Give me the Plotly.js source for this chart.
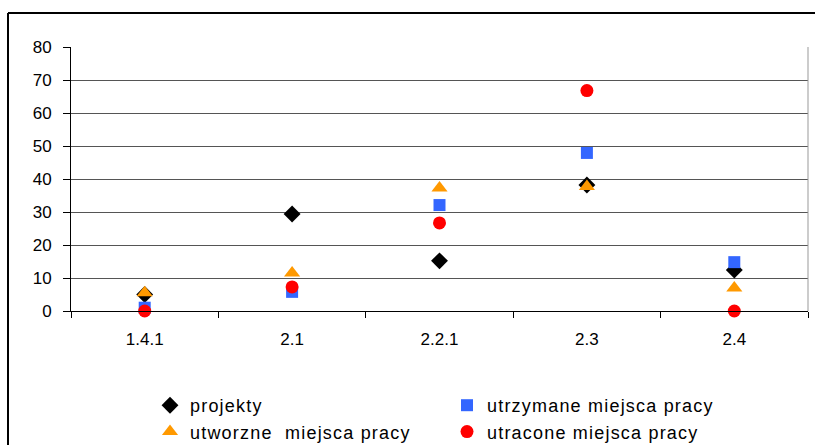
<!DOCTYPE html>
<html>
<head>
<meta charset="utf-8">
<script src="https://cdn.plot.ly/plotly-3.0.1.min.js"></script>
<style>
html,body{margin:0;padding:0;background:#fff;}
#chart{width:815px;height:445px;}
#chart .legendtext{letter-spacing:1.2px;}
</style>
</head>
<body>
<div id="chart"></div>
<script>
const categories = ["1.4.1", "2.1", "2.2.1", "2.3", "2.4"];
const projekty = [5, 29.4, 15.2, 38.2, 12.4];
const utrzymane = [1, 5.8, 32.1, 47.9, 14.8];
const utworzne = [5.5, 11.5, 37.3, 37.7, 7];
const utracone = [0, 7.3, 26.7, 66.8, 0];
const seriesNames = ["projekty", "utrzymane miejsca pracy", "utworzne  miejsca pracy", "utracone miejsca pracy"];

const W = 815, H = 445;
const m = {l: 71, r: 7, t: 47, b: 134};
const pw = W - m.l - m.r, ph = H - m.t - m.b;
const px = x => (x - m.l) / pw;
const py = y => (H - m.b - y) / ph;

const font = {family: "Liberation Sans, Arial, sans-serif", size: 17, color: "#000"};
const legendFont = {family: "Liberation Sans, Arial, sans-serif", size: 18, color: "#000"};

const traces = [
  {y: projekty, name: seriesNames[0], marker: {symbol: "diamond", size: 13, color: "#000000"}},
  {y: utrzymane, name: seriesNames[1], marker: {symbol: "square", size: 12, color: "#3366FF"}},
  {y: utworzne, name: seriesNames[2], marker: {symbol: "triangle-up", size: 14, color: "#FF9900"}},
  {y: utracone, name: seriesNames[3], marker: {symbol: "circle", size: 13, color: "#FF0000"}}
].map(t => Object.assign({x: categories, type: "scatter", mode: "markers", cliponaxis: false}, t));

const layout = {
  width: W, height: H,
  margin: m,
  paper_bgcolor: "#fff", plot_bgcolor: "#fff",
  font: font,
  showlegend: true,
  legend: {
    orientation: "h",
    xref: "container", yref: "container",
    x: 150 / W, xanchor: "left", y: 1 - 387 / H, yanchor: "top",
    entrywidth: 252, entrywidthmode: "pixels", font: legendFont, traceorder: "normal",
    itemwidth: 30, bgcolor: "rgba(0,0,0,0)"
  },
  xaxis: {
    type: "category", range: [-0.5, 4.5],
    showline: true, linecolor: "#000", linewidth: 1,
    ticks: "outside", tickson: "boundaries", ticklen: 6, tickcolor: "#000",
    ticklabelstandoff: 13,
    showgrid: false, zeroline: false, tickfont: font, fixedrange: true
  },
  yaxis: {
    range: [0, 80], dtick: 10, tick0: 0,
    showline: true, linecolor: "#000", linewidth: 1,
    ticks: "outside", ticklen: 7, tickcolor: "#000",
    ticklabelstandoff: 8,
    showgrid: true, gridcolor: "#555", gridwidth: 1,
    zeroline: false, tickfont: font, fixedrange: true
  },
  shapes: [
    {type: "line", xref: "paper", yref: "paper", x0: 1, x1: 1, y0: 0, y1: 1, line: {color: "#999", width: 1}},
    {type: "line", xref: "paper", yref: "paper", x0: px(8), x1: px(830), y0: py(13), y1: py(13), line: {color: "#000", width: 2}},
    {type: "line", xref: "paper", yref: "paper", x0: px(8), x1: px(8), y0: py(13), y1: py(460), line: {color: "#000", width: 2}}
  ]
};

Plotly.newPlot("chart", traces, layout, {staticPlot: true, displayModeBar: false});
</script>
</body>
</html>
